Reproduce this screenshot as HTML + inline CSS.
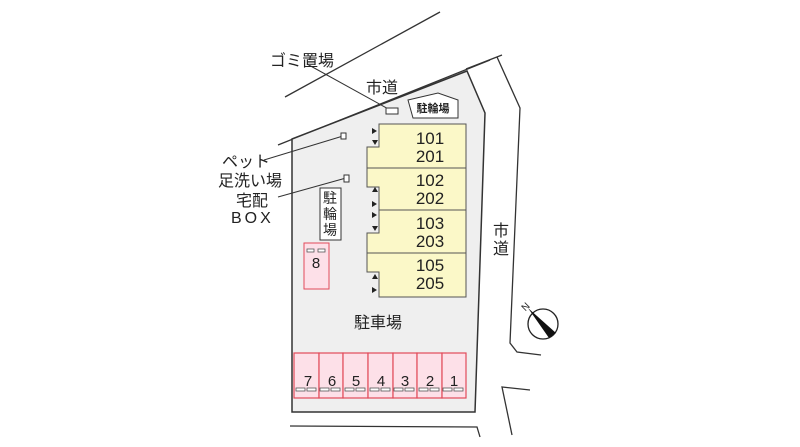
<!DOCTYPE html>
<html><head><meta charset="utf-8"><style>
html,body{margin:0;padding:0;background:#fff;}
svg{display:block;}
text{font-family:"Liberation Sans","Noto Sans CJK JP",sans-serif;fill:#222;}
</style></head><body>
<svg width="800" height="447" viewBox="0 0 800 447">
<g stroke="#333" stroke-width="1.3" fill="none">
<line x1="285" y1="97" x2="440" y2="12"/>
<line x1="278" y1="145" x2="490" y2="60"/>
<polyline points="466,69 502,55"/>
<polyline points="497,57 520,108 510,343 517,352 541,355"/>
<polyline points="530,390 502,387 512,435"/>
<polyline points="290,426 477,427 480,437"/>
</g>
<polygon points="292,139 467,71 485,113 475,412 292,412" fill="#efefef" stroke="#333" stroke-width="1.5"/>
<g fill="#fbf8c8" stroke="#555" stroke-width="1">
<polygon points="379,124 466,124 466,297 379,297 379,272 367,272 367,233 379,233 379,187 367,187 367,147 379,147"/>
<line x1="367" y1="168" x2="466" y2="168"/>
<line x1="379" y1="210" x2="466" y2="210"/>
<line x1="367" y1="253" x2="466" y2="253"/>
</g>
<g font-size="17" text-anchor="middle">
<text x="430" y="144">101</text><text x="430" y="162">201</text>
<text x="430" y="186">102</text><text x="430" y="204">202</text>
<text x="430" y="229">103</text><text x="430" y="247">203</text>
<text x="430" y="271">105</text><text x="430" y="289">205</text>
</g>
<g fill="#222">
<polygon points="372,128 377,131 372,134"/>
<polygon points="372,140 378,140 375,145"/>
<polygon points="372,192 378,192 375,187"/>
<polygon points="372,201 377,204 372,207"/>
<polygon points="372,212 377,215 372,218"/>
<polygon points="372,226 378,226 375,231"/>
<polygon points="372,279 378,279 375,274"/>
<polygon points="372,287 377,290 372,293"/>
</g>
<g stroke="#333" stroke-width="1" fill="#fff">
<line x1="307" y1="64" x2="392" y2="111"/>
<rect x="386" y="108" width="12" height="6"/>
<line x1="264" y1="160" x2="343" y2="136"/>
<rect x="341" y="133" width="5" height="6"/>
<line x1="278" y1="197" x2="346" y2="178"/>
<rect x="344" y="175" width="5" height="7"/>
<polygon points="408,100 438,93 458,100 458,118 413,118"/>
<rect x="320" y="188" width="21" height="52"/>
</g>
<text x="433" y="112" font-size="11" text-anchor="middle" font-weight="bold">駐輪場</text>
<g font-size="14" text-anchor="middle">
<text x="330" y="203">駐</text><text x="330" y="219">輪</text><text x="330" y="235">場</text>
</g>
<g font-size="16">
<text x="270" y="66">ゴミ置場</text>
<text x="366" y="93">市道</text>
<text x="222" y="167">ペット</text>
<text x="218" y="186">足洗い場</text>
<text x="236" y="206">宅配</text>
<text x="231" y="223" letter-spacing="3">BOX</text>
<text x="354" y="328">駐車場</text>
</g>
<text x="493" y="236" font-size="16">市</text><text x="493" y="254" font-size="16">道</text>
<rect x="304" y="243" width="25" height="46" fill="#fde0e8" stroke="#e24a5a" stroke-width="1"/>
<g fill="#fff" stroke="#555" stroke-width="0.8"><rect x="307" y="249" width="7" height="3"/><rect x="318" y="249" width="7" height="3"/></g>
<text x="316" y="268" font-size="15" text-anchor="middle">8</text>
<g stroke="#e24a5a" stroke-width="1.2" fill="#fde0e8">
<rect x="294" y="353" width="25" height="45"/><rect x="319" y="353" width="24" height="45"/><rect x="343" y="353" width="25" height="45"/><rect x="368" y="353" width="25" height="45"/><rect x="393" y="353" width="24" height="45"/><rect x="417" y="353" width="25" height="45"/><rect x="442" y="353" width="24" height="45"/>
</g>
<g fill="#fff" stroke="#555" stroke-width="0.8">
<rect x="296" y="388" width="9" height="3"/><rect x="307" y="388" width="9" height="3"/><rect x="320" y="388" width="9" height="3"/><rect x="331" y="388" width="9" height="3"/><rect x="345" y="388" width="9" height="3"/><rect x="356" y="388" width="9" height="3"/><rect x="370" y="388" width="9" height="3"/><rect x="381" y="388" width="9" height="3"/><rect x="394" y="388" width="9" height="3"/><rect x="405" y="388" width="9" height="3"/><rect x="419" y="388" width="9" height="3"/><rect x="430" y="388" width="9" height="3"/><rect x="443" y="388" width="9" height="3"/><rect x="454" y="388" width="9" height="3"/>
</g>
<g font-size="15" text-anchor="middle">
<text x="308" y="386">7</text><text x="332" y="386">6</text><text x="356" y="386">5</text><text x="381" y="386">4</text><text x="405" y="386">3</text><text x="430" y="386">2</text><text x="454" y="386">1</text>
</g>
<circle cx="543" cy="324" r="15" fill="#fff" stroke="#222" stroke-width="1.3"/>
<polygon points="528,308 556,333 549,338" fill="#111"/>
<text x="528" y="309" font-size="10" transform="rotate(-45 528 309)" text-anchor="middle">N</text>
</svg>
</body></html>
